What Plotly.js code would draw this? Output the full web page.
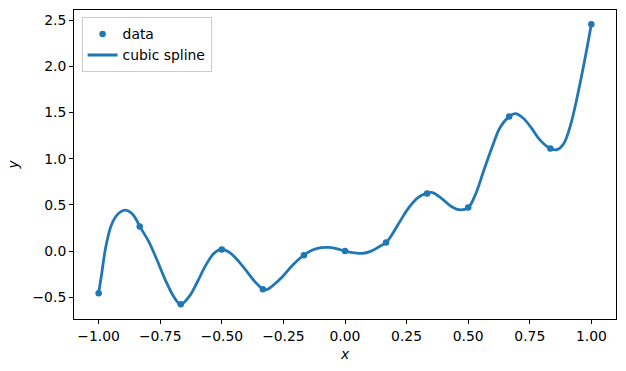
<!DOCTYPE html>
<html>
<head>
<meta charset="utf-8">
<script src="https://cdn.plot.ly/plotly-3.0.1.min.js"></script>
<style>html,body{margin:0;padding:0;background:#fff;}#chart{width:626px;height:371px;}</style>
</head>
<body>
<div id="chart"></div>
<script>
// data points
const xData = [-1.0, -0.8333, -0.6667, -0.5, -0.3333, -0.1667, 0.0, 0.1667, 0.3333, 0.5, 0.6667, 0.8333, 1.0];
const yData = [-0.457, 0.267, -0.576, 0.018, -0.412, -0.044, 0.0, 0.094, 0.624, 0.471, 1.458, 1.110, 2.457];

// cubic spline curve
const xCurve = [-1.0, -0.989, -0.972, -0.951, -0.931, -0.911, -0.891, -0.870, -0.850, -0.833,
  -0.796, -0.763, -0.729, -0.695, -0.667, -0.633, -0.599, -0.565, -0.532, -0.500,
  -0.464, -0.430, -0.397, -0.363, -0.333, -0.318, -0.294, -0.254, -0.213, -0.167,
  -0.132, -0.098, -0.065, -0.031, 0.0, 0.036, 0.070, 0.104, 0.138, 0.167,
  0.192, 0.225, 0.259, 0.293, 0.313, 0.333, 0.355, 0.394, 0.428, 0.462, 0.500,
  0.529, 0.563, 0.597, 0.630, 0.667, 0.691, 0.725, 0.758, 0.792, 0.833,
  0.860, 0.887, 0.914, 0.941, 0.968, 1.0];
const yCurve = [-0.457, -0.270, 0.030, 0.262, 0.372, 0.425, 0.443, 0.418, 0.354, 0.267,
  0.100, -0.097, -0.314, -0.494, -0.578, -0.494, -0.332, -0.152, -0.025, 0.018,
  -0.025, -0.116, -0.224, -0.339, -0.412, -0.418, -0.375, -0.278, -0.152, -0.044,
  0.011, 0.038, 0.040, 0.025, 0.0, -0.018, -0.025, -0.003, 0.047, 0.094,
  0.185, 0.330, 0.470, 0.572, 0.608, 0.626, 0.634, 0.566, 0.489, 0.448, 0.471,
  0.610, 0.870, 1.125, 1.340, 1.458, 1.488, 1.436, 1.328, 1.201, 1.110,
  1.098, 1.160, 1.350, 1.650, 2.000, 2.457];

const xTicks = [-1.0, -0.75, -0.5, -0.25, 0.0, 0.25, 0.5, 0.75, 1.0];
const yTicks = [-0.5, 0.0, 0.5, 1.0, 1.5, 2.0, 2.5];

const blue = '#1f77b4';
const font = {family: 'DejaVu Sans, sans-serif', size: 13.9, color: '#000'};

const traces = [
  {x: xData, y: yData, mode: 'markers', type: 'scatter', name: 'data',
   marker: {color: blue, size: 6.5}},
  {x: xCurve, y: yCurve, mode: 'lines', type: 'scatter', name: 'cubic spline',
   line: {color: blue, width: 2.8, shape: 'spline', smoothing: 1.0}}
];

const axisCommon = {
  showgrid: false, zeroline: false, showline: true, linecolor: '#000', linewidth: 1,
  mirror: true, ticks: 'outside', ticklen: 4, tickwidth: 1, tickcolor: '#000',
  tickfont: font
};

const layout = {
  width: 626, height: 371,
  margin: {l: 74, r: 10, t: 10, b: 52, pad: 0},
  paper_bgcolor: '#fff', plot_bgcolor: '#fff',
  font: font,
  xaxis: Object.assign({}, axisCommon, {
    range: [-1.1, 1.1], tickvals: xTicks, ticktext: xTicks.map(v => v.toFixed(2).replace('-', '\u2212')),
    title: {text: '<i>x</i>', font: font, standoff: 6}
  }),
  yaxis: Object.assign({}, axisCommon, {
    range: [-0.735, 2.61], tickvals: yTicks, ticktext: yTicks.map(v => v.toFixed(1).replace('-', '\u2212')),
    title: {text: '<i>y</i>', font: font, standoff: 10}
  }),
  showlegend: true,
  legend: {x: 0.014, y: 0.976, xanchor: 'left', yanchor: 'top',
    bgcolor: 'rgba(255,255,255,0.8)', bordercolor: '#cccccc', borderwidth: 1,
    font: font, tracegroupgap: 0, itemwidth: 30}
};

Plotly.newPlot('chart', traces, layout, {displayModeBar: false, staticPlot: true});
</script>
</body>
</html>
